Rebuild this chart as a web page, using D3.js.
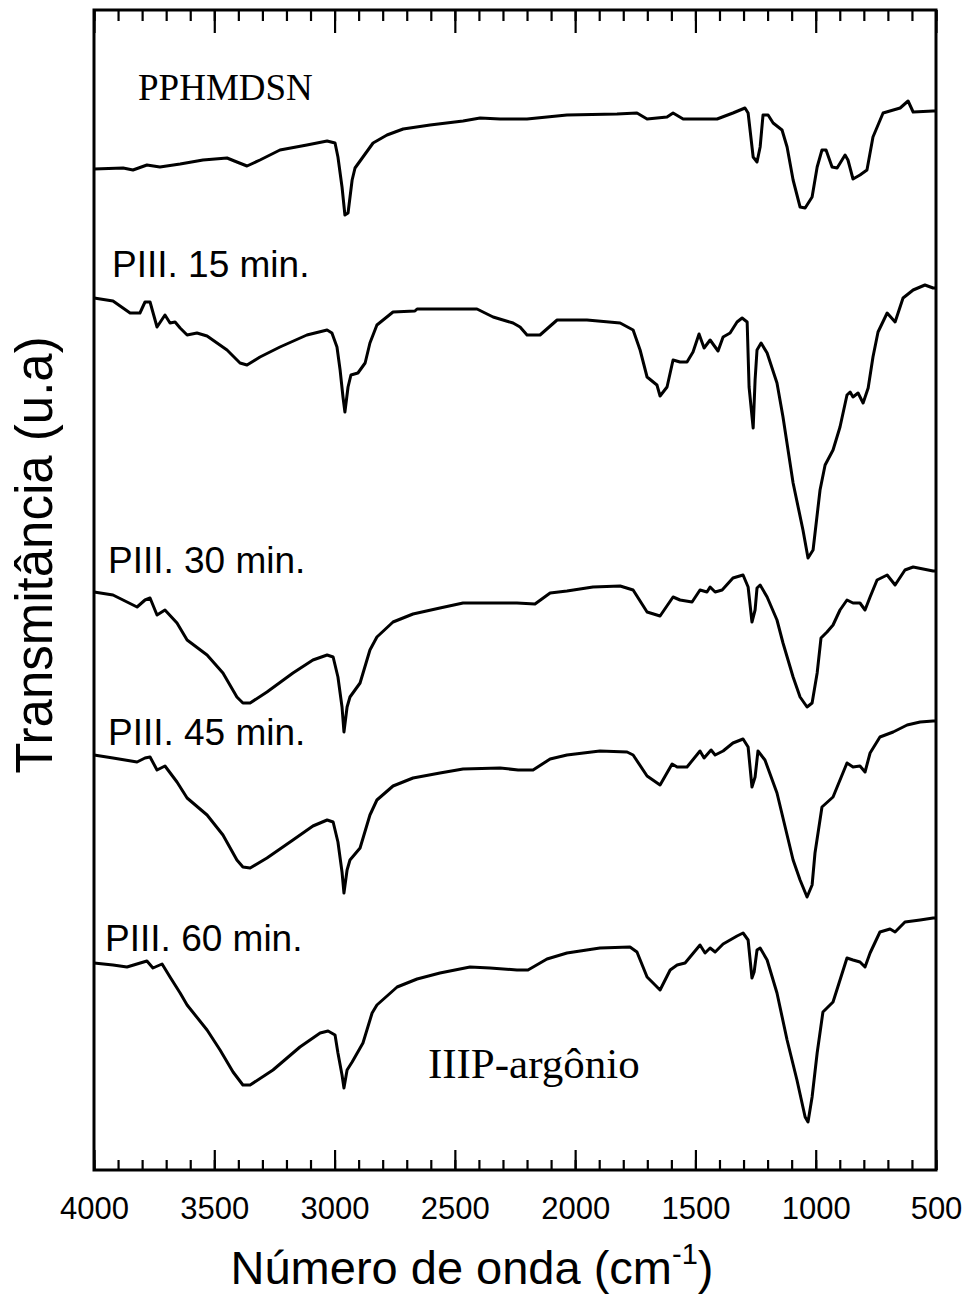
<!DOCTYPE html>
<html>
<head>
<meta charset="utf-8">
<script src="https://cdn.jsdelivr.net/npm/d3@7"></script>
<style>
  body { margin: 0; background: #fff; }
  .tick text { font-family: Arial, 'Liberation Sans', sans-serif; }
</style>
</head>
<body>
<div id="chart"></div>
<script>
// [wavenumber (cm-1), transmittance (u.a, offset per curve)]
const pphmdsn = [
  [4000, 100.1], [3879, 100.2], [3838, 100.0], [3780, 100.5], [3726, 100.3], [3642, 100.6],
  [3547, 101.0], [3447, 101.2], [3406, 100.8], [3364, 100.4], [3310, 101.0], [3227, 102.0],
  [3115, 102.5], [3031, 102.9], [2998, 102.7], [2986, 101.3], [2969, 98.3], [2957, 95.5],
  [2944, 95.7], [2927, 99.0], [2915, 100.2], [2882, 101.3], [2840, 102.7], [2782, 103.5],
  [2715, 104.1], [2603, 104.5], [2466, 104.9], [2395, 105.2], [2312, 105.1], [2200, 105.1],
  [2034, 105.5], [1826, 105.6], [1743, 105.7], [1701, 105.1], [1618, 105.3], [1593, 105.7],
  [1551, 105.1], [1410, 105.1], [1344, 105.7], [1294, 106.2], [1281, 105.7], [1260, 101.3],
  [1244, 100.8], [1231, 102.3], [1219, 105.5], [1198, 105.5], [1177, 104.7], [1140, 104.0],
  [1119, 102.3], [1094, 99.0], [1065, 96.3], [1044, 96.2], [1015, 97.3], [994, 100.3],
  [974, 102.0], [957, 102.0], [932, 100.3], [911, 100.2], [878, 101.5], [866, 101.0],
  [845, 99.1], [816, 99.5], [787, 100.0], [762, 103.3], [720, 105.7], [649, 106.2],
  [616, 106.9], [595, 105.8], [512, 105.9], [500, 105.9]
]

const piii15 = [
  [4000, 87.2], [3921, 86.9], [3850, 85.7], [3809, 85.7], [3788, 86.8], [3767, 86.8],
  [3738, 84.3], [3705, 85.5], [3684, 84.7], [3663, 84.8], [3642, 84.2], [3613, 83.5],
  [3572, 83.7], [3530, 83.4], [3447, 82.0], [3393, 80.7], [3364, 80.5], [3310, 81.3],
  [3227, 82.3], [3115, 83.5], [3031, 84.0], [3011, 83.7], [2990, 82.3], [2977, 80.0],
  [2965, 77.3], [2957, 75.8], [2944, 78.3], [2932, 79.5], [2903, 79.7], [2873, 80.7],
  [2853, 82.7], [2824, 84.5], [2757, 85.8], [2666, 85.9], [2657, 86.1], [2408, 86.1],
  [2341, 85.3], [2258, 84.7], [2229, 84.3], [2200, 83.5], [2146, 83.5], [2075, 85.0],
  [1951, 85.0], [1813, 84.7], [1759, 84.0], [1730, 82.0], [1701, 79.3], [1660, 78.5],
  [1647, 77.4], [1618, 78.3], [1593, 81.0], [1564, 80.8], [1535, 80.8], [1510, 81.8],
  [1485, 83.6], [1464, 82.2], [1439, 83.0], [1406, 81.9], [1385, 83.3], [1356, 83.7],
  [1327, 84.8], [1306, 85.2], [1285, 84.8], [1277, 78.3], [1260, 74.2], [1252, 79.0],
  [1244, 82.0], [1227, 82.7], [1202, 81.7], [1161, 78.7], [1136, 75.3], [1094, 68.7],
  [1053, 64.0], [1032, 61.2], [1011, 62.0], [982, 68.0], [961, 70.5], [928, 72.0],
  [899, 74.3], [870, 77.5], [857, 77.8], [845, 77.3], [824, 77.7], [803, 76.7],
  [782, 78.2], [762, 81.3], [741, 83.8], [703, 85.7], [670, 84.8], [637, 87.2],
  [595, 88.0], [546, 88.5], [512, 88.2], [500, 88.2]
]

const piii30 = [
  [4000, 57.8], [3921, 57.5], [3821, 56.3], [3788, 57.0], [3767, 57.2], [3738, 55.5],
  [3705, 56.0], [3655, 54.7], [3613, 53.0], [3530, 51.5], [3464, 49.7], [3406, 47.3],
  [3381, 46.7], [3351, 46.7], [3281, 47.8], [3173, 49.7], [3090, 51.0], [3031, 51.5],
  [3006, 51.3], [2986, 49.3], [2969, 46.3], [2961, 43.8], [2948, 46.3], [2936, 47.3],
  [2894, 48.7], [2853, 52.0], [2824, 53.3], [2757, 54.8], [2674, 55.6], [2562, 56.2],
  [2466, 56.7], [2242, 56.7], [2167, 56.6], [2104, 57.7], [2034, 57.9], [1926, 58.3],
  [1813, 58.4], [1759, 58.0], [1701, 55.8], [1647, 55.4], [1593, 57.3], [1564, 57.0],
  [1514, 56.8], [1481, 58.0], [1452, 57.8], [1439, 58.3], [1418, 57.8], [1389, 58.0],
  [1344, 59.2], [1302, 59.5], [1281, 58.3], [1265, 54.8], [1252, 56.0], [1244, 58.2],
  [1231, 58.5], [1202, 57.3], [1161, 55.0], [1136, 52.7], [1094, 49.3], [1065, 47.3],
  [1036, 46.3], [1015, 46.7], [994, 49.7], [978, 53.2], [953, 53.8], [928, 54.5],
  [899, 56.0], [870, 57.0], [845, 56.7], [816, 56.7], [795, 56.0], [774, 57.3],
  [745, 59.0], [703, 59.5], [670, 58.5], [629, 60.0], [595, 60.3], [512, 59.9], [500, 59.9]
]

const piii45 = [
  [4000, 41.5], [3921, 41.2], [3821, 40.8], [3788, 41.2], [3767, 41.3], [3738, 40.0],
  [3705, 40.4], [3655, 38.8], [3613, 37.2], [3530, 35.5], [3464, 33.5], [3406, 31.0],
  [3381, 30.3], [3351, 30.2], [3281, 31.2], [3173, 33.0], [3090, 34.4], [3031, 35.0],
  [3006, 34.8], [2986, 32.8], [2969, 29.8], [2961, 27.7], [2948, 30.0], [2936, 31.0],
  [2894, 32.2], [2853, 35.5], [2824, 37.0], [2757, 38.4], [2674, 39.2], [2562, 39.7],
  [2466, 40.1], [2312, 40.2], [2237, 40.0], [2175, 40.0], [2104, 41.1], [2034, 41.5],
  [1897, 41.9], [1784, 41.8], [1759, 41.5], [1701, 39.4], [1647, 38.5], [1597, 40.6],
  [1576, 40.3], [1535, 40.3], [1481, 41.9], [1464, 41.2], [1435, 42.0], [1418, 41.5],
  [1385, 41.9], [1344, 42.7], [1302, 43.1], [1281, 42.3], [1265, 38.3], [1252, 39.3],
  [1240, 41.9], [1211, 41.0], [1161, 37.7], [1094, 31.0], [1065, 29.0], [1036, 27.3],
  [1015, 28.5], [1003, 31.7], [974, 36.3], [928, 37.3], [870, 40.7], [845, 40.3],
  [816, 40.4], [795, 39.8], [774, 41.7], [733, 43.3], [678, 43.8], [620, 44.5],
  [566, 44.8], [512, 44.9], [500, 44.9]
]

const piii60 = [
  [4000, 20.7], [3921, 20.5], [3863, 20.3], [3780, 20.9], [3755, 20.2], [3717, 20.6],
  [3684, 19.3], [3642, 17.7], [3613, 16.5], [3530, 14.0], [3476, 12.0], [3422, 9.8],
  [3381, 8.5], [3351, 8.5], [3256, 10.0], [3144, 12.3], [3060, 13.7], [3027, 13.9],
  [2998, 13.5], [2986, 11.7], [2969, 9.5], [2961, 8.2], [2948, 10.0], [2927, 10.8],
  [2882, 12.7], [2844, 15.7], [2824, 16.5], [2740, 18.3], [2657, 19.1], [2562, 19.7],
  [2437, 20.3], [2354, 20.2], [2242, 20.0], [2196, 20.0], [2117, 21.1], [2034, 21.7],
  [1897, 22.2], [1772, 22.3], [1743, 21.8], [1701, 19.3], [1647, 18.0], [1605, 20.0],
  [1576, 20.5], [1543, 20.7], [1481, 22.5], [1460, 21.7], [1439, 22.2], [1418, 21.8],
  [1385, 22.6], [1327, 23.4], [1302, 23.7], [1281, 23.0], [1265, 19.2], [1256, 19.8],
  [1244, 22.0], [1231, 22.2], [1202, 21.0], [1161, 17.7], [1119, 13.0], [1078, 9.0],
  [1044, 5.3], [1032, 4.8], [1015, 7.3], [994, 11.7], [970, 15.8], [928, 16.8],
  [870, 21.2], [845, 21.0], [816, 20.8], [795, 20.3], [774, 21.7], [733, 23.8],
  [691, 24.1], [670, 23.8], [629, 24.8], [566, 25.0], [512, 25.2], [500, 25.2]
]

const curveLabels = ['PPHMDSN', 'PIII. 15 min.', 'PIII. 30 min.', 'PIII. 45 min.', 'PIII. 60 min.']
const noteLabel = 'IIIP-argônio'
const xMajorTicks = [4000, 3500, 3000, 2500, 2000, 1500, 1000, 500]
const xMinorTicks = d3.range(500, 4001, 100)

const canvasWidth = 971
const canvasHeight = 1298
const margins = {top: 10, right: 35, bottom: 128, left: 94}
const width = canvasWidth - margins.left - margins.right
const height = canvasHeight - margins.top - margins.bottom

const xScale = d3.scaleLinear().domain([4000, 500]).range([0, width])
const yScale = d3.scaleLinear().domain([0, 116]).range([height, 0])

const svg = d3
  .select('#chart')
  .append('svg')
  .attr('width', canvasWidth)
  .attr('height', canvasHeight)
  .append('g')
  .attr('transform', `translate(${margins.left}, ${margins.top})`)

// minor + major ticks, pointing inward, top and bottom
const tickGroups = [
  {axis: d3.axisBottom, y: height, values: xMinorTicks, size: -10},
  {axis: d3.axisBottom, y: height, values: xMajorTicks, size: -20},
  {axis: d3.axisTop, y: 0, values: xMinorTicks, size: -11},
  {axis: d3.axisTop, y: 0, values: xMajorTicks, size: -23},
]
tickGroups.forEach(t => {
  const g = svg
    .append('g')
    .attr('transform', `translate(0, ${t.y})`)
    .call(t.axis(xScale).tickValues(t.values).tickSize(t.size).tickFormat(''))
  g.select('.domain').remove()
  g.selectAll('line').attr('stroke', '#000').attr('stroke-width', 2.2)
})

// tick labels
const labelAxis = svg
  .append('g')
  .attr('transform', `translate(0, ${height})`)
  .call(
    d3
      .axisBottom(xScale)
      .tickValues(xMajorTicks)
      .tickFormat(d3.format('d'))
      .tickSize(0)
      .tickPadding(27),
  )
labelAxis.select('.domain').remove()
labelAxis.selectAll('text').attr('font-size', 31).attr('fill', '#000')

// frame
svg
  .append('rect')
  .attr('width', width)
  .attr('height', height)
  .attr('fill', 'none')
  .attr('stroke', '#000')
  .attr('stroke-width', 3)

const line = d3
  .line()
  .x(d => xScale(d[0]))
  .y(d => yScale(d[1]))

const spectra = [pphmdsn, piii15, piii30, piii45, piii60]
svg
  .selectAll('path.spectrum')
  .data(spectra)
  .enter()
  .append('path')
  .attr('class', 'spectrum')
  .attr('d', line)
  .attr('fill', 'none')
  .attr('stroke', '#000')
  .attr('stroke-width', 3)
  .attr('stroke-linejoin', 'round')

// curve labels, placed in data units
const labelPos = [[3817, 107.0], [3925, 89.3], [3942, 59.7], [3942, 42.5], [3954, 21.9]]
curveLabels.forEach((txt, i) => {
  const serif = i === 0
  svg
    .append('text')
    .attr('x', xScale(labelPos[i][0]))
    .attr('y', yScale(labelPos[i][1]))
    .attr('font-family', serif ? "'Liberation Serif', 'Times New Roman', serif" : "Arial, 'Liberation Sans', sans-serif")
    .attr('font-size', serif ? 37 : 37)
    .attr('fill', '#000')
    .text(txt)
})

svg
  .append('text')
  .attr('x', xScale(2612))
  .attr('y', yScale(9.2))
  .attr('font-family', "'Liberation Serif', 'Times New Roman', serif")
  .attr('font-size', 43)
  .attr('fill', '#000')
  .text(noteLabel)

// axis titles
const xTitle = svg
  .append('text')
  .attr('x', 472 - margins.left)
  .attr('y', height + 114)
  .attr('text-anchor', 'middle')
  .attr('font-family', "Arial, 'Liberation Sans', sans-serif")
  .attr('font-size', 47)
  .attr('fill', '#000')
xTitle.append('tspan').text('Número de onda (cm')
xTitle.append('tspan').attr('font-size', 29).attr('dy', -20).text('-1')
xTitle.append('tspan').attr('dy', 20).text(')')

svg
  .append('text')
  .attr('transform', `translate(${52 - margins.left}, ${555 - margins.top}) rotate(-90)`)
  .attr('text-anchor', 'middle')
  .attr('font-family', "Arial, 'Liberation Sans', sans-serif")
  .attr('font-size', 51)
  .attr('fill', '#000')
  .text('Transmitância (u.a)')
</script>
</body>
</html>
